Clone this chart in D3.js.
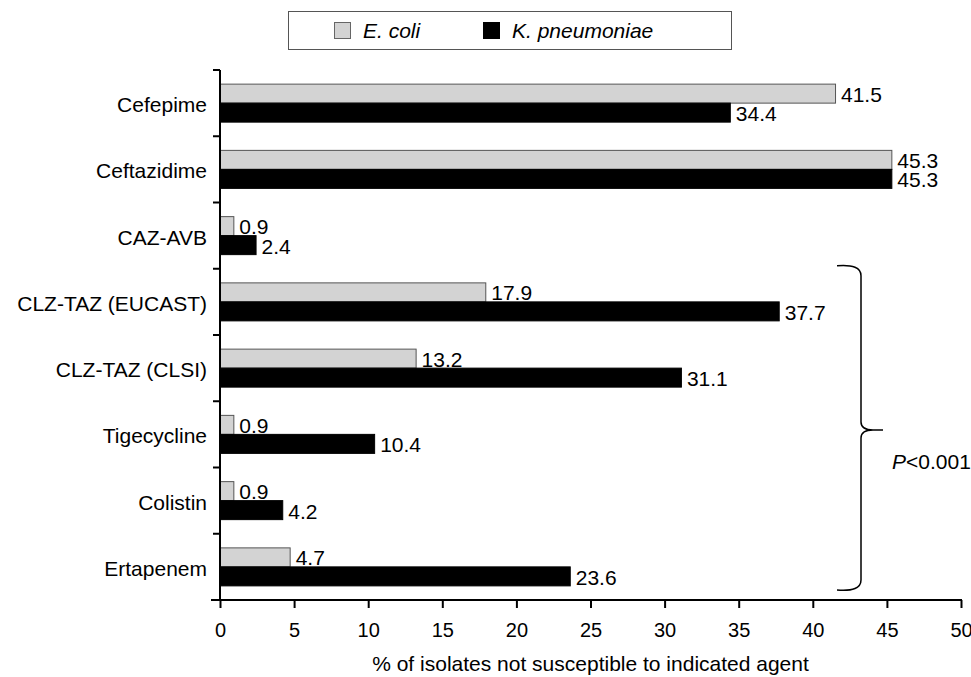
<!DOCTYPE html>
<html>
<head>
<meta charset="utf-8">
<script src="https://cdn.jsdelivr.net/npm/d3@7"></script>
<style>
  body { margin: 0; background: #fff; }
  text { font-family: "Liberation Sans", Arial, sans-serif; }
</style>
</head>
<body>
<div id="chart"></div>
<script>
// chart data
var agents = ["Cefepime", "Ceftazidime", "CAZ-AVB", "CLZ-TAZ (EUCAST)", "CLZ-TAZ (CLSI)", "Tigecycline", "Colistin", "Ertapenem"];
var ecoli = [41.5, 45.3, 0.9, 17.9, 13.2, 0.9, 0.9, 4.7];
var kpneu = [34.4, 45.3, 2.4, 37.7, 31.1, 10.4, 4.2, 23.6];
var xTicks = [0, 5, 10, 15, 20, 25, 30, 35, 40, 45, 50];
var seriesNames = ["E. coli", "K. pneumoniae"];

const svgwidth = 971;
const svgheight = 677;
var margin = {top: 70, right: 10, bottom: 77, left: 220};
var width = svgwidth - margin.left - margin.right;
var height = svgheight - margin.top - margin.bottom;
var fs = 21;

var svg = d3.select("#chart")
  .append("svg")
  .attr("width", svgwidth)
  .attr("height", svgheight);

var g = svg.append("g")
  .attr("transform", `translate(${margin.left}, ${margin.top})`);

// scales
var x = d3.scaleLinear().domain([0, 50]).range([0, 741]);
var y = d3.scaleBand().domain(agents).range([0, height]);
var barH = 19;

// bars
agents.forEach(function(a, i) {
  var c = y(a) + y.bandwidth() / 2;
  g.append("rect")
    .attr("x", 0.5).attr("y", c - barH)
    .attr("width", x(ecoli[i])).attr("height", barH)
    .attr("fill", "#d3d3d3").attr("stroke", "#555").attr("stroke-width", 1);
  g.append("rect")
    .attr("x", 0.5).attr("y", c)
    .attr("width", x(kpneu[i])).attr("height", barH)
    .attr("fill", "#000").attr("stroke", "#000").attr("stroke-width", 1);
  g.append("text")
    .attr("x", x(ecoli[i]) + 6).attr("y", c - 1.5)
    .attr("font-size", fs).text(ecoli[i].toFixed(1));
  g.append("text")
    .attr("x", x(kpneu[i]) + 6).attr("y", c + 18)
    .attr("font-size", fs).text(kpneu[i].toFixed(1));
  // category label
  g.append("text")
    .attr("x", -13).attr("y", c + 9)
    .attr("text-anchor", "end").attr("font-size", fs).text(a);
});

// y axis line and boundary ticks
g.append("line").attr("x1", 0).attr("x2", 0).attr("y1", 0).attr("y2", height)
  .attr("stroke", "#000").attr("stroke-width", 2);
agents.forEach(function(a) {
  g.append("line").attr("x1", -7).attr("x2", 0).attr("y1", y(a)).attr("y2", y(a))
    .attr("stroke", "#000").attr("stroke-width", 2);
});

// x axis
var xAxis = d3.axisBottom(x).tickValues(xTicks).tickSize(8).tickPadding(15).tickSizeOuter(0);
var xg = g.append("g").attr("transform", `translate(0, ${height})`).call(xAxis);
xg.select(".domain").remove();
xg.selectAll(".tick line").attr("stroke-width", 2);
xg.selectAll(".tick text").attr("font-size", 20).attr("font-family", "Liberation Sans, Arial, sans-serif").attr("fill", "#000");
g.append("line").attr("x1", -9).attr("x2", x(50) + 1).attr("y1", height).attr("y2", height)
  .attr("stroke", "#000").attr("stroke-width", 2);

g.append("text")
  .attr("x", x(25)).attr("y", height + 71)
  .attr("text-anchor", "middle").attr("font-size", fs)
  .text("% of isolates not susceptible to indicated agent");

// brace for significance
var bTop = y("CLZ-TAZ (EUCAST)") - 3, bBot = height - 10;
var mid = 360;
var bx = 617, vx = 641, tip = 663;
var brace = d3.path();
brace.moveTo(bx, bTop);
brace.quadraticCurveTo(vx, bTop - 2, vx, bTop + 10);
brace.lineTo(vx, mid - 8);
brace.quadraticCurveTo(vx, mid, vx + 12, mid);
brace.lineTo(tip, mid);
brace.moveTo(vx + 12, mid);
brace.quadraticCurveTo(vx, mid, vx, mid + 8);
brace.lineTo(vx, bBot - 10);
brace.quadraticCurveTo(vx, bBot + 2, bx, bBot);
g.append("path").attr("d", brace.toString())
  .attr("fill", "none").attr("stroke", "#000").attr("stroke-width", 1.5);
var pt = g.append("text").attr("x", 672).attr("y", 399).attr("font-size", fs);
pt.append("tspan").attr("font-style", "italic").text("P");
pt.append("tspan").text("<0.001");

// legend
var leg = svg.append("g");
leg.append("rect").attr("x", 288.5).attr("y", 11.5).attr("width", 443).attr("height", 38)
  .attr("fill", "#fff").attr("stroke", "#555").attr("stroke-width", 1);
var legX = [334, 483];
var legFill = ["#d3d3d3", "#000"];
seriesNames.forEach(function(s, i) {
  leg.append("rect").attr("x", legX[i] + 0.5).attr("y", 22.5).attr("width", 16).attr("height", 16)
    .attr("fill", legFill[i]).attr("stroke", i === 0 ? "#666" : "#000");
  leg.append("text").attr("x", legX[i] + 29).attr("y", 38)
    .attr("font-size", fs).attr("font-style", "italic").text(s);
});
</script>
</body>
</html>
